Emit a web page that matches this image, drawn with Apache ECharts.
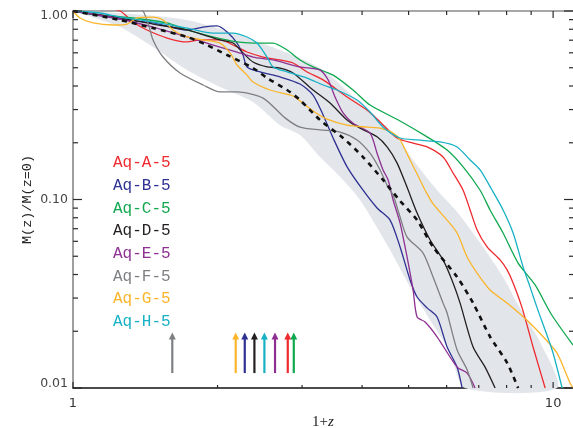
<!DOCTYPE html>
<html><head><meta charset="utf-8">
<script src="https://cdn.jsdelivr.net/npm/echarts@6/dist/echarts.min.js"></script>
<style>html,body{margin:0;padding:0;background:#fff}#c{width:573px;height:428px}</style>
</head><body><div id="c"></div>
<script>
// ---------- data ----------
const haloNames  = ['Aq-A-5','Aq-B-5','Aq-C-5','Aq-D-5','Aq-E-5','Aq-F-5','Aq-G-5','Aq-H-5'];
const haloColors = ['#ee2a2f','#2e3192','#10a84f','#231f20','#8e3092','#7d7f82','#fbb52a','#17b1c5'];

const aqA = [[1,1],[1.05,1.03],[1.15,1.04],[1.253,1.0],[1.334,0.874],[1.426,0.793],[1.570,0.719],[1.728,0.685],[1.839,0.702],[2.024,0.702],[2.196,0.644],[2.304,0.606],[2.488,0.570],[2.699,0.550],[2.873,0.530],[3.073,0.475],[3.318,0.431],[3.723,0.350],[4.098,0.298],[4.361,0.258],[4.732,0.212],[5.109,0.199],[5.465,0.190],[5.899,0.168],[6.189,0.1382],[6.494,0.112],[6.716,0.0880],[6.945,0.0689],[7.286,0.0560],[7.754,0.0478],[8.019,0.0423],[8.254,0.0361],[8.618,0.0266],[9.083,0.0165],[9.624,0.01]];
const aqB = [[1,1],[1.253,0.907],[1.468,0.864],[1.728,0.793],[1.866,0.822],[1.995,0.833],[2.094,0.774],[2.196,0.676],[2.260,0.584],[2.304,0.505],[2.453,0.475],[2.699,0.447],[2.971,0.410],[3.162,0.358],[3.318,0.281],[3.481,0.212],[3.723,0.149],[4.019,0.112],[4.298,0.0902],[4.575,0.0778],[4.800,0.0560],[5.036,0.0374],[5.208,0.0304],[5.465,0.0266],[5.732,0.0238],[6.014,0.0165],[6.310,0.0129],[6.463,0.01]];
const aqC = [[1,1],[1.138,0.952],[1.334,0.918],[1.570,0.864],[1.728,0.793],[1.957,0.728],[2.196,0.685],[2.371,0.676],[2.610,0.676],[2.792,0.621],[2.971,0.550],[3.162,0.505],[3.481,0.457],[3.831,0.381],[4.156,0.317],[4.800,0.261],[5.465,0.215],[6.014,0.183],[6.494,0.149],[7.046,0.112],[7.390,0.0880],[7.866,0.0664],[8.455,0.0460],[9.173,0.0352],[9.904,0.0247],[11.0,0.0169]];
const aqD = [[1,1],[1.253,0.918],[1.468,0.853],[1.728,0.793],[2.024,0.702],[2.154,0.676],[2.260,0.599],[2.371,0.536],[2.536,0.505],[2.699,0.498],[2.873,0.469],[3.162,0.381],[3.431,0.325],[3.723,0.264],[3.962,0.239],[4.298,0.215],[4.510,0.190],[4.732,0.156],[4.964,0.116],[5.208,0.0848],[5.544,0.0610],[5.899,0.0478],[6.189,0.0361],[6.401,0.0282],[6.813,0.0165],[7.216,0.0129],[7.571,0.01]];
const aqE = [[1,1],[1.253,0.907],[1.468,0.822],[1.593,0.774],[1.728,0.728],[1.866,0.685],[2.024,0.644],[2.196,0.606],[2.371,0.570],[2.610,0.550],[2.971,0.505],[3.270,0.486],[3.399,0.431],[3.514,0.350],[3.652,0.288],[3.831,0.254],[4.156,0.225],[4.298,0.176],[4.424,0.1434],[4.532,0.127],[4.642,0.0994],[4.800,0.0750],[4.964,0.0495],[5.109,0.0331],[5.208,0.0238],[5.412,0.0224],[5.732,0.0187],[6.310,0.0129],[6.620,0.0120],[6.879,0.01]];
const aqF = [[1,1],[1.1,1.08],[1.25,1.12],[1.36,1.06],[1.399,1.0],[1.433,0.864],[1.468,0.702],[1.540,0.570],[1.671,0.469],[1.866,0.405],[2.024,0.372],[2.196,0.372],[2.488,0.345],[2.765,0.271],[2.971,0.242],[3.270,0.234],[3.600,0.228],[3.905,0.207],[4.156,0.176],[4.361,0.1434],[4.532,0.116],[4.642,0.1056],[4.800,0.0808],[4.964,0.0632],[5.360,0.0520],[5.623,0.0388],[5.899,0.0282],[6.014,0.0250],[6.310,0.0159],[6.620,0.0125],[6.813,0.01]];
const aqG = [[1,1],[1.034,0.918],[1.101,0.864],[1.212,0.843],[1.296,0.853],[1.359,0.918],[1.468,0.929],[1.540,0.896],[1.615,0.793],[1.728,0.728],[1.866,0.702],[2.024,0.676],[2.124,0.599],[2.196,0.517],[2.304,0.457],[2.371,0.420],[2.573,0.381],[2.873,0.354],[2.971,0.333],[3.162,0.295],[3.382,0.267],[3.723,0.248],[4.098,0.242],[4.361,0.239],[4.642,0.225],[4.800,0.207],[5.036,0.162],[5.284,0.127],[5.412,0.112],[5.623,0.0947],[6.014,0.0778],[6.310,0.0664],[6.620,0.0495],[6.945,0.0407],[7.390,0.0331],[8.019,0.0282],[8.254,0.0266],[8.827,0.0229],[9.532,0.0187],[10.19,0.0153],[10.85,0.0106],[11.0,0.01]];
const aqH = [[1,1],[1.138,0.976],[1.253,0.929],[1.468,0.874],[1.728,0.812],[1.957,0.764],[2.154,0.764],[2.304,0.728],[2.417,0.676],[2.536,0.570],[2.610,0.505],[2.792,0.475],[3.073,0.441],[3.318,0.405],[3.548,0.381],[3.905,0.337],[4.156,0.291],[4.424,0.242],[4.800,0.212],[5.208,0.207],[5.815,0.202],[6.310,0.190],[6.716,0.162],[7.046,0.1434],[7.463,0.112],[7.866,0.0880],[8.254,0.0664],[8.660,0.0438],[8.955,0.0343],[9.261,0.0266],[9.952,0.0159],[10.44,0.01]];
const haloCurves = [aqA, aqB, aqC, aqD, aqE, aqF, aqG, aqH];

const meanCurve = [[1,1],[1.253,0.896],[1.468,0.812],[1.728,0.728],[1.901,0.660],[2.094,0.584],[2.371,0.498],[2.536,0.441],[2.792,0.381],[2.971,0.337],[3.270,0.264],[3.652,0.212],[4.019,0.168],[4.424,0.127],[4.800,0.0983],[5.208,0.0778],[5.623,0.0560],[6.310,0.0388],[6.813,0.0282],[7.390,0.0187],[8.019,0.0136],[8.455,0.01]];

const bandUpper = [[1,1],[1.253,0.976],[1.728,0.896],[2.371,0.702],[3.270,0.498],[4.098,0.298],[4.642,0.225],[5.109,0.162],[5.732,0.112],[6.310,0.0859],[7.146,0.0560],[7.866,0.0388],[8.414,0.0282],[9.395,0.0175],[10.19,0.01]];
const bandLower = [[1,1],[1.253,0.822],[1.468,0.644],[1.728,0.486],[2.024,0.395],[2.371,0.329],[2.699,0.248],[2.971,0.220],[3.270,0.168],[3.600,0.132],[3.962,0.0994],[4.575,0.0540],[5.036,0.0343],[5.544,0.0229],[6.101,0.0155],[6.557,0.01]];

// formation-time arrows (1+z), in halo order A..H
const arrowX = [2.801, 2.279, 2.883, 2.387, 2.635, 1.610, 2.182, 2.504];
const arrowBase = 0.012, arrowTip = 0.0197;

const xMajorTicks = [1, 10], xTickLabels = ['1', '10'];
const xMinorTicks = [2, 3, 4, 5, 6, 7, 8, 9];
const yMajorTicks = [0.01, 0.1, 1], yTickLabels = ['0.01', '0.10', '1.00'];
const yMinorTicks = [0.02,0.03,0.04,0.05,0.06,0.07,0.08,0.09,0.2,0.3,0.4,0.5,0.6,0.7,0.8,0.9];

// ---------- chart ----------
const chart = echarts.init(document.getElementById('c'), null, {renderer: 'canvas'});
const X_MIN = 1, X_MAX = 11, Y_MIN = 0.01, Y_MAX = 1;

const xAxes = [
  {type: 'log', position: 'bottom', min: X_MIN, max: X_MAX, logBase: 10,
    axisLine: {show: true, lineStyle: {color: '#111', width: 1.5}},
    axisTick: {show: false}, splitLine: {show: false}, minorTick: {show: false},
    axisLabel: {show: true, customValues: xMajorTicks, margin: 9,
      formatter: v => xTickLabels[xMajorTicks.findIndex(t => Math.abs(t - v) < 1e-6)] || '',
      fontFamily: 'DejaVu Sans', fontSize: 13, color: '#333'},
    name: '{n|1+}{i|z}', nameLocation: 'middle', nameGap: 25,
    nameTextStyle: {rich: {
      n: {fontFamily: 'Liberation Serif', fontSize: 15, color: '#222'},
      i: {fontFamily: 'Liberation Serif', fontStyle: 'italic', fontSize: 15, color: '#222'}}}
  },
  {type: 'log', position: 'top', min: X_MIN, max: X_MAX, logBase: 10,
    axisLine: {show: true, lineStyle: {color: '#8a8a8a', width: 1.5}},
    axisTick: {show: false}, axisLabel: {show: false}, splitLine: {show: false}, minorTick: {show: false}}
];
const yAxes = [
  {type: 'log', position: 'left', min: Y_MIN, max: Y_MAX, logBase: 10,
    axisLine: {show: true, lineStyle: {color: '#7f7f7f', width: 1.5}},
    axisTick: {show: false}, splitLine: {show: false}, minorTick: {show: false},
    axisLabel: {show: true, customValues: yMajorTicks, margin: 5,
      fontFamily: 'DejaVu Sans', fontSize: 12.5, color: '#444',
      formatter: v => {
        const i = yMajorTicks.findIndex(t => Math.abs(Math.log10(t) - Math.log10(v)) < 1e-6);
        if (i === 2) return '{top|' + yTickLabels[i] + '}';
        if (i === 0) return '{bot|' + yTickLabels[i] + '}';
        return i >= 0 ? yTickLabels[i] : '';
      },
      rich: {
        top: {fontFamily: 'DejaVu Sans', fontSize: 12.5, color: '#444', padding: [10, 0, 0, 0]},
        bot: {fontFamily: 'DejaVu Sans', fontSize: 12.5, color: '#444', padding: [0, 0, 8, 0]}
      }},
    name: 'M(z)/M(z=0)', nameLocation: 'middle', nameGap: 39, nameRotate: 90, nameMoveOverlap: false,
    nameTextStyle: {fontFamily: 'Liberation Mono', fontSize: 13.5, color: '#222'}
  }
];

const series = [];
// shaded scatter band
series.push({
  type: 'custom', xAxisIndex: 0, yAxisIndex: 0, silent: true, z: 1,
  data: [[1, 1]],
  renderItem: (params, api) => {
    const pts = bandUpper.concat(bandLower.slice().reverse()).map(p => api.coord(p));
    return {type: 'polygon', shape: {points: pts, smooth: 0.25}, style: {fill: '#e2e5ea'}};
  }
});
haloCurves.forEach((d, i) => {
  series.push({
    type: 'line', name: haloNames[i], data: d, xAxisIndex: 0, yAxisIndex: 0,
    showSymbol: false, symbol: 'none', smooth: 0.25, clip: true, z: 3,
    lineStyle: {color: haloColors[i], width: 1.3}
  });
});
series.push({
  type: 'line', name: 'mean', data: meanCurve, xAxisIndex: 0, yAxisIndex: 0,
  showSymbol: false, symbol: 'none', smooth: 0.25, clip: true, z: 4,
  lineStyle: {color: '#111', width: 2.6, type: [5, 5]}
});
series.push({
  type: 'custom', xAxisIndex: 0, yAxisIndex: 0, silent: true, z: 5,
  data: arrowX.map((x, i) => [x, arrowBase, arrowTip, i]),
  renderItem: (params, api) => {
    const b = api.coord([api.value(0), api.value(1)]);
    const t = api.coord([api.value(0), api.value(2)]);
    const c = haloColors[api.value(3)];
    return {type: 'group', children: [
      {type: 'line', shape: {x1: b[0], y1: b[1], x2: t[0], y2: t[1] + 6}, style: {stroke: c, lineWidth: 2.2}},
      {type: 'polygon', shape: {points: [[t[0] - 3.5, t[1] + 7], [t[0] + 3.5, t[1] + 7], [t[0], t[1]]]}, style: {fill: c}}
    ]};
  }
});
// tick marks on all four sides, anchored at the axis scale positions
series.push({
  type: 'custom', xAxisIndex: 0, yAxisIndex: 0, silent: true, z: 6,
  data: [[2, 0.1]],
  renderItem: (params, api) => {
    const kids = [];
    const seg = (v, dx, dy) => {
      const p = api.coord(v);
      const w = 0.6;
      const pts = dx !== 0
        ? [[p[0], p[1] - w], [p[0] + dx, p[1] - w], [p[0] + dx, p[1] + w], [p[0], p[1] + w]]
        : [[p[0] - w, p[1]], [p[0] + w, p[1]], [p[0] + w, p[1] + dy], [p[0] - w, p[1] + dy]];
      kids.push({type: 'polygon', shape: {points: pts}, style: {fill: '#2a2a2a'}});
    };
    xMajorTicks.forEach(v => { seg([v, Y_MIN], 0, -6); seg([v, Y_MAX], 0, 7); });
    xMinorTicks.forEach(v => { seg([v, Y_MIN], 0, -3); seg([v, Y_MAX], 0, 4); });
    yMajorTicks.forEach(v => { seg([X_MIN, v], 9, 0); seg([X_MAX, v], -9, 0); });
    yMinorTicks.forEach(v => { seg([X_MIN, v], 5, 0); seg([X_MAX, v], -4, 0); });
    return {type: 'group', children: kids};
  }
});

chart.setOption({
  animation: false,
  backgroundColor: '#fff',
  grid: {left: 73, right: 0, top: 11, bottom: 40, containLabel: false, outerBoundsMode: 'none'},
  xAxis: xAxes,
  yAxis: yAxes,
  series: series,
  graphic: haloNames.map((n, i) => ({
    type: 'text', left: 113, top: 155 + i * 22.7, silent: true, z: 50,
    style: {text: n, fill: haloColors[i], font: '16px "Liberation Mono"'}
  }))
});
</script></body></html>
